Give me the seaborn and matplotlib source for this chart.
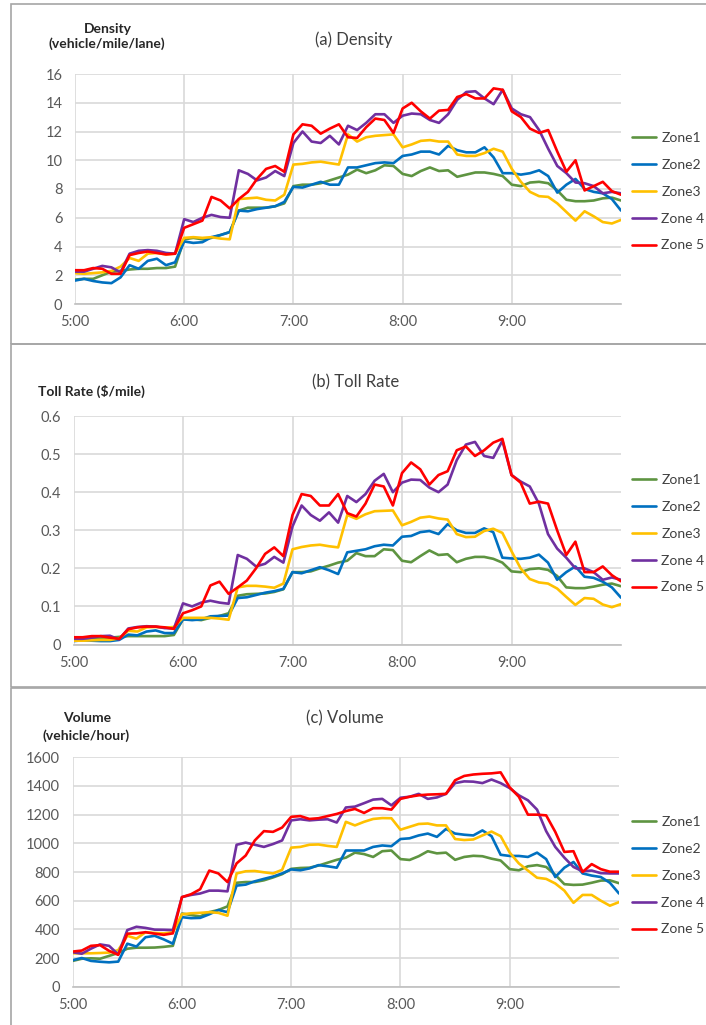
import matplotlib
matplotlib.use("Agg")
import matplotlib.pyplot as plt
import seaborn as sns
import pandas as pd
from matplotlib.patches import Rectangle

# ---------------- data (minutes after 5:00, every 5 min) ----------------
minutes = list(range(0, 301, 5))
zones = ["Zone1", "Zone2", "Zone3", "Zone 4", "Zone 5"]
colors = ["#5E9441", "#0070C0", "#FFC000", "#7030A0", "#FF0000"]
hour_ticks = [0, 60, 120, 180, 240]
hour_labels = ["5:00", "6:00", "7:00", "8:00", "9:00"]

density_z1 = [1.7, 1.75, 1.75, 2.0, 2.25, 2.3, 2.4, 2.45, 2.45, 2.5, 2.5, 2.6,
              4.5, 4.6, 4.5, 4.6, 4.8, 5.0, 6.5, 6.7, 6.7, 6.7, 6.8, 7.0,
              8.2, 8.3, 8.3, 8.4, 8.6, 8.8, 9.0,
              9.35, 9.1, 9.3, 9.65, 9.6, 9.05, 8.9, 9.25, 9.5, 9.25, 9.3,
              8.85, 9.0, 9.15, 9.15, 9.05, 8.9, 8.3, 8.2, 8.45, 8.5, 8.4, 7.9,
              7.25, 7.15, 7.15, 7.2, 7.35, 7.4, 7.2]
density_z2 = [1.63, 1.75, 1.6, 1.5, 1.45, 1.85, 2.7, 2.45, 3.0, 3.15, 2.7, 2.9,
              4.35, 4.25, 4.3, 4.65, 4.8, 5.0, 6.5, 6.45, 6.6, 6.7, 6.8, 7.1,
              8.15, 8.1, 8.3, 8.5, 8.3, 8.3, 9.5,
              9.5, 9.65, 9.8, 9.85, 9.8, 10.3, 10.4, 10.6, 10.6, 10.4, 11.0,
              10.7, 10.55, 10.55, 10.9, 10.2, 9.1, 9.1, 9.0, 9.1, 9.3, 8.9, 7.75,
              8.3, 8.7, 8.0, 7.8, 7.7, 7.3, 6.5]
density_z3 = [2.15, 2.1, 2.15, 2.2, 2.3, 2.6, 3.2, 3.0, 3.5, 3.55, 3.45, 3.5,
              4.6, 4.65, 4.6, 4.65, 4.55, 4.5, 7.3, 7.35, 7.4, 7.25, 7.2, 7.6,
              9.7, 9.75, 9.85, 9.9, 9.8, 9.7, 11.8,
              11.3, 11.6, 11.7, 11.75, 11.8, 10.9, 11.1, 11.35, 11.4, 11.3, 11.3,
              10.4, 10.3, 10.3, 10.5, 10.8, 10.6, 9.4, 8.5, 7.8, 7.5, 7.45, 7.0,
              6.4, 5.8, 6.45, 6.1, 5.7, 5.6, 5.85]
density_z4 = [2.25, 2.25, 2.45, 2.65, 2.55, 2.2, 3.5, 3.7, 3.75, 3.7, 3.55, 3.5,
              5.9, 5.7, 6.0, 6.2, 6.05, 6.0, 9.3, 9.05, 8.6, 8.8, 9.25, 8.9,
              11.2, 12.0, 11.3, 11.2, 11.7, 11.1, 12.4,
              12.1, 12.6, 13.2, 13.2, 12.6, 13.1, 13.25, 13.2, 12.8, 12.6, 13.2,
              14.2, 14.75, 14.8, 14.3, 13.9, 14.9, 13.6, 13.2, 13.0, 12.1, 10.8, 9.6,
              9.1, 8.45, 8.4, 8.2, 7.7, 7.8, 7.7]
density_z5 = [2.35, 2.35, 2.5, 2.45, 2.1, 2.1, 3.4, 3.55, 3.65, 3.55, 3.45, 3.5,
              5.3, 5.55, 5.8, 7.45, 7.2, 6.65, 7.3, 7.8, 8.7, 9.4, 9.6, 9.2,
              11.8, 12.5, 12.4, 11.85, 12.2, 12.5, 11.6,
              11.55, 12.3, 12.9, 12.8, 11.9, 13.6, 14.0, 13.4, 12.9, 13.45, 13.5,
              14.4, 14.6, 14.3, 14.3, 15.0, 14.9, 13.4, 13.0, 12.2, 11.9, 12.1, 10.6,
              9.2, 10.0, 7.9, 8.2, 8.5, 7.85, 7.6]

toll_z1 = [0.013, 0.014, 0.014, 0.016, 0.018, 0.02, 0.022, 0.022, 0.022, 0.022, 0.022, 0.025,
           0.066, 0.066, 0.064, 0.07, 0.075, 0.082, 0.128, 0.132, 0.133, 0.134, 0.138, 0.145,
           0.19, 0.19, 0.192, 0.2, 0.207, 0.215, 0.22,
           0.24, 0.232, 0.232, 0.25, 0.248, 0.22, 0.216, 0.232, 0.247, 0.235, 0.237,
           0.216, 0.225, 0.23, 0.23, 0.225, 0.215, 0.192, 0.19, 0.198, 0.2, 0.196, 0.18,
           0.15, 0.148, 0.148, 0.152, 0.157, 0.16, 0.153]
toll_z2 = [0.009, 0.011, 0.01, 0.009, 0.009, 0.012, 0.026, 0.024, 0.034, 0.037, 0.03, 0.03,
           0.066, 0.064, 0.066, 0.074, 0.075, 0.076, 0.122, 0.124, 0.13, 0.136, 0.14, 0.146,
           0.19, 0.187, 0.195, 0.203, 0.195, 0.185, 0.242,
           0.246, 0.25, 0.258, 0.262, 0.26, 0.283, 0.285, 0.295, 0.298, 0.29, 0.316,
           0.3, 0.293, 0.293, 0.305, 0.295, 0.228, 0.226, 0.225, 0.228, 0.236, 0.215, 0.17,
           0.19, 0.205, 0.178, 0.175, 0.165, 0.15, 0.123]
toll_z3 = [0.01, 0.01, 0.011, 0.012, 0.012, 0.016, 0.036, 0.034, 0.045, 0.046, 0.044, 0.046,
           0.07, 0.07, 0.07, 0.07, 0.068, 0.065, 0.15, 0.154, 0.154, 0.152, 0.149, 0.16,
           0.25, 0.256, 0.26, 0.262, 0.258, 0.255, 0.34,
           0.33, 0.342, 0.35, 0.351, 0.352, 0.313, 0.322, 0.333, 0.336, 0.331, 0.328,
           0.29, 0.282, 0.283, 0.298, 0.304, 0.293, 0.245, 0.2, 0.172, 0.163, 0.16, 0.147,
           0.125, 0.104, 0.122, 0.12, 0.105, 0.098, 0.106]
toll_z4 = [0.015, 0.015, 0.018, 0.022, 0.023, 0.013, 0.042, 0.046, 0.048, 0.047, 0.043, 0.042,
           0.108, 0.1, 0.11, 0.115, 0.11, 0.107, 0.235, 0.225, 0.205, 0.212, 0.23, 0.215,
           0.31, 0.365, 0.34, 0.325, 0.347, 0.32, 0.39,
           0.374, 0.395, 0.43, 0.448, 0.4, 0.425, 0.433, 0.432, 0.412, 0.4, 0.42,
           0.484, 0.525, 0.532, 0.495, 0.49, 0.535, 0.445, 0.428, 0.415, 0.37, 0.29, 0.252,
           0.228, 0.2, 0.2, 0.19, 0.17, 0.176, 0.17]
toll_z5 = [0.019, 0.019, 0.022, 0.022, 0.018, 0.015, 0.04, 0.045, 0.047, 0.047, 0.045, 0.041,
           0.082, 0.09, 0.1, 0.155, 0.165, 0.133, 0.15, 0.168, 0.2, 0.238, 0.255, 0.232,
           0.34, 0.395, 0.39, 0.365, 0.365, 0.395, 0.345,
           0.336, 0.37, 0.42, 0.415, 0.365, 0.45, 0.478, 0.46, 0.42, 0.445, 0.455,
           0.51, 0.52, 0.495, 0.51, 0.53, 0.54, 0.445, 0.425, 0.37, 0.375, 0.37, 0.3,
           0.235, 0.27, 0.19, 0.19, 0.205, 0.182, 0.166]

volume_z1 = [180, 195, 198, 195, 215, 235, 265, 272, 272, 273, 278, 285,
             510, 500, 490, 520, 535, 560, 725, 730, 730, 742, 762, 785,
             822, 828, 830, 845, 865, 885, 900,
             935, 925, 905, 945, 950, 890, 884, 910, 945, 930, 935,
             885, 905, 913, 910, 893, 880, 820, 812, 840, 848, 835, 780,
             715, 710, 712, 725, 740, 742, 722]
volume_z2 = [185, 200, 180, 174, 170, 175, 300, 280, 345, 355, 330, 300,
             485, 478, 480, 505, 535, 520, 705, 712, 735, 752, 768, 790,
             818, 812, 825, 848, 840, 830, 950,
             950, 950, 975, 985, 980, 1030, 1035, 1055, 1068, 1045, 1100,
             1068, 1060, 1055, 1090, 1050, 920, 912, 912, 905, 935, 890, 765,
             830, 870, 790, 775, 765, 725, 650]
volume_z3 = [233, 233, 233, 235, 238, 255, 355, 335, 380, 375, 372, 380,
             505, 512, 515, 520, 515, 495, 790, 805, 807, 798, 790, 815,
             970, 975, 990, 992, 982, 975, 1150,
             1125, 1150, 1170, 1176, 1175, 1095, 1115, 1135, 1138, 1125, 1125,
             1030, 1023, 1027, 1055, 1082, 1050, 935, 860, 810, 760, 752, 720,
             670, 585, 640, 640, 600, 565, 590]
volume_z4 = [240, 230, 265, 295, 285, 225, 395, 418, 410, 398, 397, 395,
             625, 640, 650, 670, 670, 665, 990, 1005, 990, 975, 995, 1020,
             1160, 1168, 1160, 1165, 1168, 1145, 1250,
             1256, 1280, 1305, 1310, 1265, 1318, 1325, 1345, 1310, 1320, 1345,
             1420, 1432, 1430, 1420, 1445, 1420, 1385, 1335, 1300, 1235, 1085, 975,
             900, 835, 805, 810, 792, 790, 790]
volume_z5 = [245, 252, 285, 290, 250, 222, 370, 372, 380, 370, 362, 372,
             625, 645, 680, 810, 790, 730, 860, 915, 1020, 1085, 1080, 1110,
             1185, 1190, 1170, 1175, 1190, 1205, 1225,
             1240, 1212, 1245, 1245, 1235, 1310, 1325, 1335, 1340, 1342, 1345,
             1440, 1470, 1480, 1485, 1488, 1495, 1390, 1325, 1200, 1200, 1195, 1080,
             940, 945, 800, 855, 820, 802, 802]

density_ticks = [0, 2, 4, 6, 8, 10, 12, 14, 16]
toll_ticks = [0, 0.1, 0.2, 0.3, 0.4, 0.5, 0.6]
toll_tick_labels = ["0", "0.1", "0.2", "0.3", "0.4", "0.5", "0.6"]
volume_ticks = [0, 200, 400, 600, 800, 1000, 1200, 1400, 1600]

# ---------------- styling ----------------
sns.set_style("white")
plt.rcParams['font.family'] = ['Lato', 'DejaVu Sans']

W, H = 706, 1025
fig = plt.figure(figsize=(W / 100, H / 100), dpi=100)


def fx(px):
    return px / W


def fy(py):
    return 1 - py / H


panels = [
    dict(series=[density_z1, density_z2, density_z3, density_z4, density_z5],
         rect=(75, 74, 621, 304), ylim=(0, 16), ticks=density_ticks,
         ticklabels=[str(t) for t in density_ticks],
         box=(4, 344), legend_top=132,
         title="(a) Density", title_xy=(354, 40),
         ylab=[("Density", 108, 33), ("(vehicle/mile/lane)", 107, 47.5)]),
    dict(series=[toll_z1, toll_z2, toll_z3, toll_z4, toll_z5],
         rect=(73.5, 416, 621, 644.5), ylim=(0, 0.6), ticks=toll_ticks,
         ticklabels=toll_tick_labels,
         box=(344, 687), legend_top=474,
         title="(b) Toll Rate", title_xy=(356, 382),
         ylab=[("Toll Rate ($/mile)", 91, 396)]),
    dict(series=[volume_z1, volume_z2, volume_z3, volume_z4, volume_z5],
         rect=(72.7, 757.3, 619, 986.7), ylim=(0, 1600), ticks=volume_ticks,
         ticklabels=[str(t) for t in volume_ticks],
         box=(688, 1040), legend_top=816,
         title="(c) Volume", title_xy=(345, 718),
         ylab=[("Volume", 87, 721.5), ("(vehicle/hour)", 86, 740)]),
]

for p in panels:
    # outer chart frame
    top, bot = p["box"]
    fig.add_artist(Rectangle((fx(11), fy(bot)), 1.0, (bot - top) / H,
                             transform=fig.transFigure, fill=False,
                             edgecolor="#a6a6a6", lw=1.2, clip_on=False))
    x0, y0, x1, y1 = p["rect"]
    ax = fig.add_axes([fx(x0), fy(y1), (x1 - x0) / W, (y1 - y0) / H])
    rows = []
    for z, vals in zip(zones, p["series"]):
        for m, v in zip(minutes, vals):
            rows.append((m, v, z))
    df = pd.DataFrame(rows, columns=["minute", "value", "zone"])
    sns.lineplot(data=df, x="minute", y="value", hue="zone", hue_order=zones,
                 palette=colors, linewidth=1.9, ax=ax, legend=True)
    ax.set_xlim(0, 300)
    ax.set_ylim(*p["ylim"])
    ax.set_xticks(hour_ticks)
    ax.set_xticklabels(hour_labels)
    ax.set_yticks(p["ticks"])
    ax.set_yticklabels(p["ticklabels"])
    ax.set_xlabel("")
    ax.set_ylabel("")
    ax.grid(True, color="#d9d9d9", lw=1.2)
    ax.set_axisbelow(True)
    for s in ["top", "right", "left"]:
        ax.spines[s].set_visible(False)
    ax.spines["bottom"].set_color("#bfbfbf")
    ax.spines["bottom"].set_linewidth(1.2)
    ax.tick_params(axis="both", length=0, labelsize=10.5, labelcolor="#595959")
    ax.tick_params(axis="y", pad=9)
    ax.tick_params(axis="x", pad=8)

    handles, labels = ax.get_legend_handles_labels()
    ax.legend(handles, labels, loc="upper left",
              bbox_to_anchor=(fx(632), fy(p["legend_top"])),
              bbox_transform=fig.transFigure, frameon=False,
              fontsize=10, handlelength=1.75, handletextpad=0.35,
              labelspacing=1.07, borderpad=0, borderaxespad=0,
              labelcolor="#404040")

    fig.text(fx(p["title_xy"][0]), fy(p["title_xy"][1]), p["title"],
             ha="center", va="center", fontsize=12, color="#404040")
    for txt, tx, ty in p["ylab"]:
        fig.text(fx(tx), fy(ty), txt, ha="center", va="baseline",
                 fontsize=10, fontweight="bold", color="#262626")

fig.savefig("out.png", dpi=100, facecolor="white")
